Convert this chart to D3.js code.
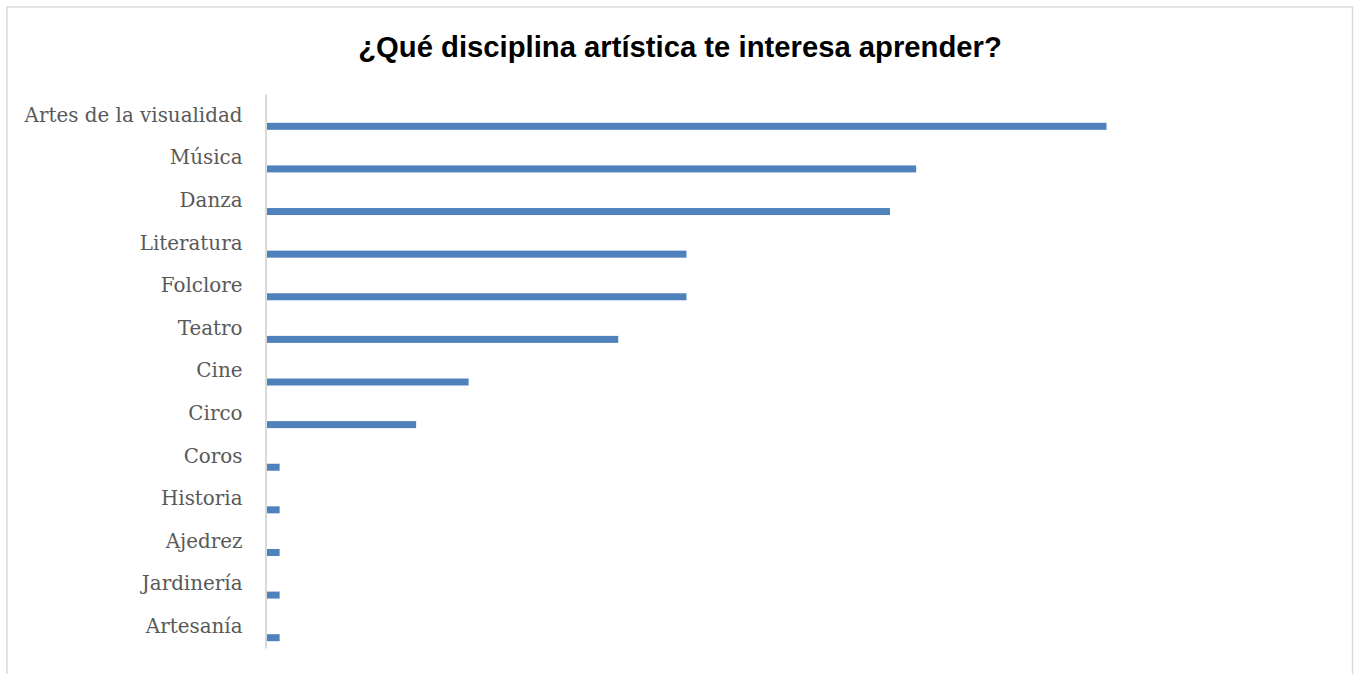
<!DOCTYPE html>
<html><head><meta charset="utf-8">
<script src="https://cdn.jsdelivr.net/npm/d3@7"></script>
<style>body{margin:0;background:#fff}svg{display:block}</style>
</head><body>
<svg id="chart" width="1359" height="674"></svg>
<script>
const categories = ["Artes de la visualidad","Música","Danza","Literatura","Folclore","Teatro","Cine","Circo","Coros","Historia","Ajedrez","Jardinería","Artesanía"];
const values = [64, 49.5, 47.5, 32, 32, 26.8, 15.4, 11.4, 1, 1, 1, 1, 1];
const title = "¿Qué disciplina artística te interesa aprender?";

const svg = d3.select("#chart");
svg.append("rect").attr("x",7).attr("y",7).attr("width",1345.5).attr("height",700)
  .attr("fill","#fff").attr("stroke","#d9d9d9").attr("stroke-width",1.5);

const t = svg.append("text").attr("x",680).attr("y",57).attr("text-anchor","middle")
  .attr("font-family","Liberation Sans, Arial, sans-serif").attr("font-weight","bold")
  .attr("font-size",24).attr("fill","#000").text(title);
const tw = t.node().getComputedTextLength();
t.attr("font-size", 24 * 644 / tw);

const x = d3.scaleLinear().domain([0,64]).range([266.5,1106.5]);
const y = d3.scaleBand().domain(categories).range([94,648]).paddingInner(0).paddingOuter(0);

svg.append("g").selectAll("rect").data(categories).join("rect")
  .attr("x", x(0))
  .attr("y", d => y(d) + y.bandwidth()/2 + 7.5)
  .attr("width", (d,i) => x(values[i]) - x(0))
  .attr("height", 7)
  .attr("fill", "#4f81bd");

const yAxis = d3.axisLeft(y).tickSize(0).tickPadding(23);
const g = svg.append("g").attr("transform",`translate(265.5,0)`).call(yAxis);
g.select(".domain").attr("stroke","#d9d9d9").attr("stroke-width",2);
const labels = g.selectAll("text").attr("font-family","DejaVu Serif, Cambria, serif")
  .attr("font-size",20).attr("fill","#595959").attr("dy","0.32em");
const lw = labels.filter(d => d === categories[0]).node().getComputedTextLength();
labels.attr("font-size", 20 * 218 / lw);
</script>
</body></html>
